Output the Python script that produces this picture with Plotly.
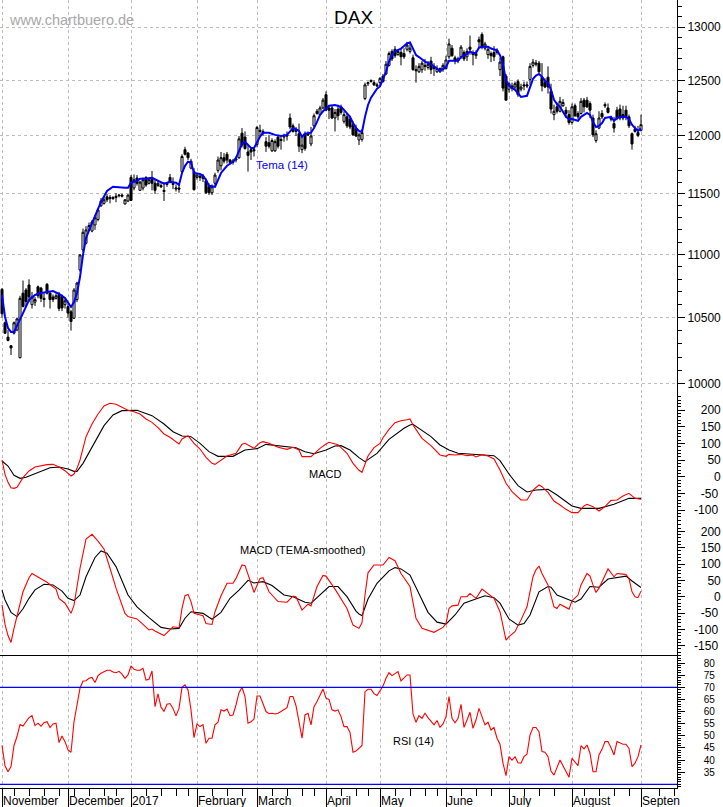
import math
import plotly.graph_objects as go

# ---------- data ----------
opens = [
10720,10460,10350,10285,10380,10405,10195,10690,10715,10755,
10600,10620,10740,10730,10650,10760,10690,10660,10650,10680,
10665,10600,10585,10545,10495,10640,10875,11036,11090,11200,
11190,11240,11285,11400,11420,11475,11470,11470,11480,11490,
11490,11415,11440,11640,11550,11635,11530,11550,11640,11590,
11640,11590,11570,11570,11520,11590,11640,11590,11540,11550,
11690,11880,11850,11720,11690,11640,11640,11650,11610,11560,
11510,11590,11700,11740,11810,11840,11790,11780,11790,11810,
12025,11990,11860,11880,11880,11925,12050,12020,11950,11940,
11870,11870,11990,11970,11990,12010,12160,12090,12060,12020,
11880,12020,12020,11930,12090,12220,12190,12250,12370,12250,
12250,12160,12240,12260,12130,12170,12150,12100,12070,11965,
11970,12335,12470,12500,12480,12460,12480,12540,12560,12640,
12770,12790,12740,12760,12750,12790,12770,12710,12600,12580,
12600,12640,12620,12680,12630,12580,12580,12600,12610,12720,
12800,12710,12700,12720,12760,12720,12810,12760,12730,12880,
12930,12800,12740,12750,12760,12780,12600,12720,12540,12420,
12450,12440,12490,12420,12460,12460,12510,12640,12650,12660,
12530,12480,12530,12400,12190,12260,12220,12270,12230,12190,
12120,12270,12200,12200,12320,12320,12290,12160,11960,12070,
12200,12280,12250,12160,12110,12230,12240,12190,12230,12170,
12020,12060,12030,12050]
highs = [
10730,10470,10405,10290,10470,10500,10670,10790,10730,10800,
10700,10660,10750,10740,10690,10770,10700,10680,10690,10700,
10680,10650,10610,10560,10730,10780,11000,11210,11230,11260,
11280,11310,11380,11465,11480,11500,11490,11480,11505,11500,
11500,11455,11495,11660,11665,11660,11610,11640,11650,11640,
11695,11620,11610,11590,11600,11600,11670,11640,11580,11580,
11840,11905,11860,11800,11720,11680,11670,11670,11630,11590,
11580,11680,11820,11860,11850,11860,11800,11800,11820,12000,
12070,12040,11920,11900,11890,12090,12100,12060,11990,12010,
11980,11970,12010,12000,12020,12040,12200,12110,12080,12110,
12000,12040,12040,12080,12200,12240,12270,12340,12400,12270,
12270,12240,12280,12280,12220,12200,12180,12130,12100,12030,
12060,12480,12490,12510,12500,12480,12530,12560,12680,12770,
12790,12820,12790,12800,12800,12860,12860,12740,12640,12660,
12680,12700,12680,12720,12660,12640,12620,12660,12730,12890,
12830,12730,12720,12830,12780,12800,12920,12780,12780,12910,
12950,12860,12820,12770,12820,12800,12710,12730,12560,12490,
12480,12490,12510,12470,12490,12490,12660,12700,12690,12680,
12660,12520,12630,12470,12280,12300,12350,12330,12260,12230,
12290,12290,12220,12340,12340,12350,12310,12190,12050,12220,
12230,12300,12290,12180,12170,12260,12280,12270,12270,12190,
12030,12090,12090,12190]
lows = [
10500,10375,10318,10215,10370,10395,10190,10580,10590,10620,
10570,10590,10650,10620,10580,10680,10570,10620,10640,10550,
10550,10570,10500,10400,10490,10620,10860,11020,11080,11190,
11180,11200,11270,11390,11410,11430,11420,11450,11430,11470,
11470,11410,11430,11440,11530,11570,11530,11530,11560,11580,
11530,11500,11560,11550,11440,11560,11590,11540,11520,11510,
11680,11830,11790,11710,11530,11620,11610,11600,11500,11490,
11490,11570,11680,11700,11760,11760,11750,11750,11770,11800,
11900,11880,11690,11790,11820,11900,11990,12000,11860,11890,
11860,11860,11890,11880,11950,11960,12060,12030,12000,11860,
11850,11870,12000,11910,12080,12190,12180,12240,12220,12150,
12150,12040,12140,12190,12110,12070,12060,12000,11990,11920,
11950,12320,12450,12480,12450,12440,12450,12480,12550,12630,
12680,12710,12730,12640,12700,12770,12750,12590,12480,12570,
12570,12590,12600,12560,12540,12570,12570,12580,12600,12700,
12720,12650,12660,12700,12680,12680,12740,12640,12700,12800,
12790,12780,12700,12670,12680,12740,12540,12400,12320,12390,
12400,12420,12350,12400,12410,12430,12460,12620,12630,12570,
12400,12430,12380,12200,12140,12200,12210,12260,12160,12100,
12100,12170,12150,12190,12210,12250,12160,11990,11940,12060,
12150,12250,12200,12130,12030,12140,12140,12140,12140,12070,
11880,12030,11990,12040]
closes = [
10530,10380,10325,10268,10460,10490,10650,10585,10625,10660,
10660,10640,10670,10650,10640,10690,10640,10640,10670,10570,
10575,10630,10535,10470,10715,10770,10995,11180,11199,11235,
11265,11300,11365,11440,11450,11450,11460,11460,11470,11485,
11480,11450,11490,11445,11620,11590,11600,11620,11575,11620,
11590,11530,11590,11560,11530,11580,11600,11580,11550,11540,
11820,11840,11810,11780,11535,11660,11650,11630,11510,11510,
11560,11660,11790,11810,11780,11790,11770,11770,11800,11975,
11920,11890,11830,11860,11870,12075,12040,12040,11910,11910,
11960,11950,11910,11960,12000,12000,12080,12040,12040,11910,
11920,11890,12010,12000,12180,12200,12250,12320,12230,12230,
12160,12210,12180,12210,12190,12090,12080,12010,12000,12010,
12030,12460,12480,12490,12460,12450,12520,12490,12650,12750,
12700,12730,12770,12720,12720,12830,12800,12600,12590,12630,
12660,12630,12650,12600,12610,12610,12610,12640,12690,12840,
12730,12680,12680,12810,12700,12770,12790,12740,12750,12860,
12810,12840,12790,12730,12720,12760,12670,12430,12320,12470,
12430,12470,12370,12440,12450,12450,12630,12670,12660,12580,
12450,12440,12440,12240,12220,12220,12310,12300,12200,12120,
12260,12180,12170,12310,12260,12260,12230,12010,12020,12160,
12170,12270,12210,12150,12070,12160,12160,12160,12170,12090,
11930,12040,12005,12100]
assert len(opens) == len(highs) == len(lows) == len(closes) == 214

tema_days = [0,1,2,3,4,5,7,9,11,13,15,17,19,21,23,24,25,26,27,28,30,32,33,35,37,41,42,43,45,46,48,50,52,54,56,58,59,60,61,62,63,64,66,67,68,69,71,72,73,75,77,78,79,80,81,82,83,84,85,86,87,89,91,93,95,96,97,98,99,100,101,103,104,105,106,107,108,109,111,113,114,115,116,117,118,119,120,121,122,123,124,125,126,127,128,129,130,131,133,134,135,136,137,138,139,141,143,145,146,148,149,151,152,153,155,156,157,158,159,160,162,163,165,166,167,168,169,171,172,173,175,176,177,178,179,180,181,182,183,184,185,186,187,188,189,190,192,193,195,196,197,198,199,200,201,203,204,205,207,208,209,210,211,212,213]
tema = [10676,10505,10420,10390,10390,10435,10535,10637,10676,10692,10700,10707,10684,10652,10582,10620,10692,10818,10995,11133,11256,11382,11432,11525,11560,11552,11552,11595,11610,11628,11628,11636,11610,11586,11603,11595,11577,11678,11740,11775,11767,11678,11670,11654,11619,11568,11560,11619,11678,11740,11775,11808,11877,11930,11948,11921,11894,11894,11948,11993,12029,12029,12010,12000,12010,12045,12070,12060,12045,11993,12020,12029,12070,12125,12187,12220,12250,12270,12277,12260,12233,12205,12170,12115,12070,12045,12035,12170,12277,12343,12388,12425,12445,12515,12580,12675,12736,12770,12797,12820,12845,12855,12797,12736,12717,12675,12650,12613,12590,12625,12683,12683,12683,12717,12745,12770,12755,12755,12805,12815,12815,12797,12780,12735,12648,12500,12450,12414,12380,12350,12360,12440,12515,12545,12560,12535,12495,12480,12414,12324,12285,12260,12220,12170,12150,12150,12135,12170,12205,12187,12125,12080,12090,12115,12160,12170,12135,12160,12170,12170,12150,12100,12070,12045,12065]

macd_red_days = [0,1,2,3,4,5,7,9,11,13,15,17,19,21,23,24,25,26,27,28,30,32,34,36,38,40,42,44,46,48,50,52,54,56,58,59,60,62,64,66,68,70,71,73,75,78,80,81,83,84,86,87,89,92,95,97,99,100,103,106,108,109,112,115,117,119,120,121,122,124,126,127,129,131,133,135,136,137,139,140,143,146,148,149,151,153,155,157,158,160,162,164,166,168,170,173,175,177,179,180,182,184,186,188,190,192,194,195,197,199,201,203,205,207,209,211,213]
macd_red = [50,7,-17,-33,-35,-32,-3,17,29,33,36,37,29,18,2,8,25,50,90,120,158,188,212,220,217,207,199,195,188,173,163,147,128,118,103,98,113,123,100,83,58,40,37,49,62,70,97,100,89,85,102,105,100,88,82,88,80,60,60,85,98,103,96,70,40,19,13,37,62,87,100,117,142,162,168,171,173,155,130,115,93,65,61,67,65,67,63,65,59,66,62,53,20,-20,-45,-70,-70,-40,-25,-30,-47,-73,-85,-98,-108,-108,-88,-83,-90,-103,-90,-71,-70,-58,-50,-65,-68]
macd_black_days = [0,2,4,6,8,12,16,19,22,24,25,27,30,34,37,40,45,50,54,57,60,63,66,69,72,77,81,85,88,92,95,98,101,104,108,111,113,116,119,120,121,125,129,134,136,137,139,143,146,149,152,155,159,164,166,169,172,175,178,182,185,190,193,199,204,209,213]
macd_black = [47,32,4,-5,-2,13,27,29,23,16,16,40,88,153,185,198,199,183,158,135,122,120,100,75,61,61,80,84,97,93,88,87,75,69,80,92,93,80,57,50,45,70,112,145,155,157,145,120,95,80,70,68,65,63,48,8,-27,-46,-40,-38,-55,-88,-95,-95,-83,-65,-65]

tmacd_red_days = [0,1,2,3,4,5,7,9,10,12,15,18,19,21,23,24,26,28,30,32,34,36,38,41,42,45,47,49,50,51,54,57,59,60,61,62,63,64,67,68,70,71,73,75,77,78,80,81,83,84,86,87,89,92,95,97,98,100,102,103,105,107,108,111,115,117,119,120,121,122,124,127,129,131,133,136,138,140,144,147,148,149,150,152,153,155,156,158,160,162,164,166,168,169,171,173,175,177,178,179,180,182,184,185,186,189,190,192,193,195,196,197,198,199,201,202,204,205,207,208,209,210,211,212,213]
tmacd_red = [-25,-85,-119,-140,-97,-61,15,58,71,60,44,23,-5,-20,-51,-26,87,176,191,170,146,87,26,-51,-61,-68,-85,-102,-99,-105,-119,-92,-95,-36,3,7,-15,-51,-58,-82,-85,-46,3,41,41,56,97,95,41,13,56,58,15,-15,-17,2,0,-41,-23,-28,31,65,63,23,-36,-87,-97,-80,5,73,97,97,120,110,71,31,-66,-97,-109,-94,-82,-36,-28,-26,0,0,10,-5,23,10,-5,-46,-133,-122,-107,-71,-31,61,82,94,71,36,-31,-36,-23,-38,-13,5,36,71,63,36,13,26,66,85,61,71,69,68,56,15,0,-3,17]
tmacd_black_days = [0,1,3,5,7,9,11,14,17,20,22,24,26,28,31,33,35,38,42,45,49,53,56,59,61,63,67,70,73,76,79,82,84,87,90,94,97,101,103,106,109,112,115,118,119,120,122,125,129,131,133,136,139,142,145,148,151,154,157,161,164,166,169,172,174,176,179,182,183,185,191,193,196,199,202,208,210,213]
tmacd_black = [20,-10,-48,-61,-37,-5,21,38,36,17,-5,-12,5,61,120,140,133,92,5,-31,-64,-94,-99,-97,-66,-46,-51,-69,-48,-5,20,50,42,46,34,5,0,-17,-20,5,31,31,0,-44,-53,-58,-7,41,79,89,85,66,10,-48,-78,-84,-56,-20,-10,3,-3,-20,-68,-87,-82,-56,15,31,29,5,-17,-7,31,29,54,63,48,28]

rsi = [46,37.6,35.2,37.3,46,49.7,54.6,54,55.8,57.5,58.3,54.2,55.2,54,55.4,55.8,53.4,54.9,55.2,47.2,
49.9,47.6,44.2,43.2,55.8,62.7,69.6,72.6,72.7,73.7,74.1,72,74.8,75.8,76.5,77,77,76.3,76,76.6,
75.4,73.7,75.1,78.8,77.4,77,77,77.8,73,73.3,76.7,62,67.3,61.8,60,63,63.3,61.3,58.2,61.3,
70,71,68.9,60.7,49.2,54.9,53.8,54.6,46.9,49,49,54.5,55.6,60.7,60.2,61,58.3,58.6,62.7,67.8,
69.9,66.2,55.2,55.8,56.9,66.4,66.4,63.4,60,59.1,59.3,59,59.3,60,60.7,61.6,66.2,66.2,62.4,55.2,
49,58.6,59.3,54.5,62,64.1,66.8,69.3,65.5,65,60.7,60.2,60.7,57.9,53.8,53.8,51.4,43.2,43.7,44.8,
46,68.2,69.2,69.2,67.4,66.6,68.5,70.5,73.7,76,74.8,75.8,76.5,72.6,74,75.1,75.1,59,55.6,58.3,
57.2,59.3,57.5,55.8,54.5,56.3,53.5,54.9,57.9,66.2,57.2,55.4,57.1,63,53.5,56.5,59.7,53.1,56.5,61.3,
57.9,54.5,55.6,52.4,53.4,49,46.5,38.7,33.6,41.4,40,41.4,38.9,38.7,41.4,42.4,50.3,53.4,53.4,51.7,
43.5,43.2,41.4,35.5,33.8,36.6,40,37.6,35.2,32.9,40.7,39.3,37.7,45.9,44.6,46.2,42.8,35.2,35.2,42.1,
44.4,47.6,47.6,45.1,42.1,47.6,46.9,46.5,46.5,44.8,37.3,38.7,41.4,46.2]
assert len(rsi) == 214

month_labels = ["November","December","2017","February","March","April","May","June","July","August","Septen"]
month_days = [0,22,43,65,85,108,126,148,169,190,213]
week_days = [4,9,14,19,24,29,34,38,48,53,58,62,70,75,80,90,95,100,104,113,118,122,131,136,141,145,153,158,163,174,179,184,194,199,204,209,219,224]

price_ticks = [10000,10500,11000,11500,12000,12500,13000]
macd_ticks = [200,150,100,50,0,-50,-100]
tmacd_ticks = [200,150,100,50,0,-50,-100,-150]
rsi_ticks = [80,75,70,65,60,55,50,45,40,35]
rsi_levels = [70,30]

# ---------- layout helpers ----------
W, H = 723, 807
AX_R = 677
GRID = "#bdbdbd"
FONT = "Liberation Sans"
days = list(range(len(opens)))


def vdom(top, bottom):
    return [1 - bottom / H, 1 - top / H]


def label(v, fs=12):
    s = str(v)
    digits = len(s.lstrip("-"))
    pad = 5 - digits - (1 if v < 0 else 0)
    return "\u2007" * pad + s


fig = go.Figure()
fig.add_trace(go.Candlestick(
    x=days, open=opens, high=highs, low=lows, close=closes, xaxis="x", yaxis="y",
    increasing=dict(line=dict(color="black", width=1), fillcolor="white"),
    decreasing=dict(line=dict(color="black", width=1), fillcolor="black"),
    whiskerwidth=0, showlegend=False, hoverinfo="skip"))
fig.add_trace(go.Scatter(x=tema_days, y=tema, mode="lines", xaxis="x", yaxis="y",
                         line=dict(color="#0000ff", width=2), showlegend=False, hoverinfo="skip"))


def line(xs, ys, color, ax):
    fig.add_trace(go.Scatter(x=xs, y=ys, mode="lines", xaxis="x" + ax, yaxis="y" + ax,
                             line=dict(color=color, width=1.1), showlegend=False, hoverinfo="skip"))


line(macd_black_days, macd_black, "black", "2")
line(macd_red_days, macd_red, "#ff0000", "2")
line(tmacd_black_days, tmacd_black, "black", "3")
line(tmacd_red_days, tmacd_red, "#ff0000", "3")
line(days, rsi, "#ff0000", "4")

xbase = dict(range=[-0.67, 225], domain=[0, AX_R / W], tickmode="array", tickvals=month_days,
             showgrid=True, gridcolor=GRID, griddash="3px,3px", gridwidth=1,
             zeroline=False, showticklabels=False, ticks="", showline=False,
             rangeslider=dict(visible=False))
ybase = dict(side="right", showline=True, linecolor="black", linewidth=1, zeroline=False,
             showgrid=False, tickmode="array", ticks="outside", ticklen=7, tickcolor="black",
             tickfont=dict(family=FONT, size=12, color="black"))

rsi_bottom = 30 + (784.3 - 788) / 2.425
rsi_top = 30 + (784.3 - 655) / 2.425

fig.update_layout(
    width=W, height=H, margin=dict(l=0, r=0, t=0, b=0), paper_bgcolor="white", plot_bgcolor="white",
    showlegend=False, boxgap=0.03,
    font=dict(family=FONT, size=12, color="black"),
    xaxis=dict(xbase, anchor="y", matches="x4"),
    xaxis2=dict(xbase, anchor="y2", matches="x4"),
    xaxis3=dict(xbase, anchor="y3", matches="x4"),
    xaxis4=dict(xbase, anchor="y4", showline=True, linecolor="black", linewidth=1,
                ticks="outside", ticklen=19, tickcolor="black",
                minor=dict(tickmode="array", tickvals=week_days, ticks="outside", ticklen=7,
                           tickcolor="black", showgrid=False)),
    yaxis=dict(ybase, anchor="x", domain=vdom(0, 395), type="log",
               range=[math.log10(9919), math.log10(13262)],
               tickvals=price_ticks, ticktext=[label(v) for v in price_ticks],
               showgrid=True, gridcolor=GRID, griddash="3px,3px", gridwidth=1,
               minor=dict(tickmode="array", tickvals=list(range(9900, 13300, 100)), ticks="outside",
                          ticklen=4, tickcolor="black", showgrid=False)),
    yaxis2=dict(ybase, anchor="x2", domain=vdom(395, 523), range=[-139, 245],
                tickvals=macd_ticks, ticktext=[label(v) for v in macd_ticks],
                minor=dict(tickmode="array", tickvals=list(range(-130, 241, 10)), ticks="outside",
                           ticklen=3, tickcolor="black", showgrid=False)),
    yaxis3=dict(ybase, anchor="x3", domain=vdom(523, 655), range=[-178.5, 225.5],
                tickvals=tmacd_ticks, ticktext=[label(v) for v in tmacd_ticks],
                minor=dict(tickmode="array", tickvals=list(range(-170, 221, 10)), ticks="outside",
                           ticklen=3, tickcolor="black", showgrid=False)),
    yaxis4=dict(ybase, anchor="x4", domain=vdom(655, 788), range=[rsi_bottom, rsi_top],
                tickvals=rsi_ticks, ticktext=[label(v) for v in rsi_ticks],
                tickfont=dict(family=FONT, size=10, color="black"),
                minor=dict(tickmode="array", tickvals=list(range(29, 84, 1)), ticks="outside",
                           ticklen=3, tickcolor="black", showgrid=False)),
)

for lv in rsi_levels:
    fig.add_shape(type="line", xref="x4 domain", yref="y4", x0=0, x1=1, y0=lv, y1=lv,
                  line=dict(color="#0000ff", width=1.2))
fig.add_shape(type="line", xref="x4 domain", yref="paper", x0=0, x1=1, y0=1 - 655.5 / H, y1=1 - 655.5 / H,
              line=dict(color="black", width=1.2))


def note(text, x, y, size=11, color="black", anchor="left"):
    fig.add_annotation(text=text, xref="paper", yref="paper", x=x / W, y=1 - y / H, showarrow=False,
                       xanchor=anchor, yanchor="middle", font=dict(family=FONT, size=size, color=color),
                       borderpad=0, borderwidth=0)


note("www.chartbuero.de", 9, 20, size=14.5, color="#a8a8a8")
note("DAX", 334, 18, size=19)
note("Tema (14)", 256, 165, size=11.5, color="#0000ff")
note("MACD", 309, 474, size=11)
note("MACD (TEMA-smoothed)", 240, 550, size=11)
note("RSI (14)", 393, 741, size=11)

for lab, d in zip(month_labels, month_days):
    fig.add_annotation(text=lab, xref="x4", yref="paper", x=d, y=1 - 801 / H, showarrow=False,
                       xanchor="left", yanchor="middle", xshift=1,
                       font=dict(family=FONT, size=12, color="black"), borderpad=0, borderwidth=0)

fig.write_html("out.html", config=dict(displayModeBar=False),
               post_script="document.body.style.margin='0';document.body.style.overflow='hidden';")
